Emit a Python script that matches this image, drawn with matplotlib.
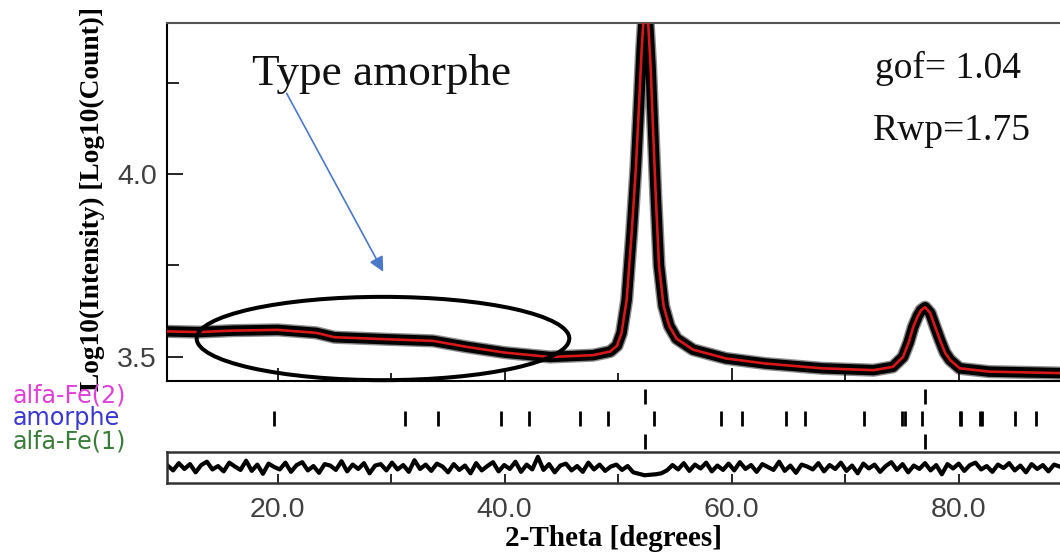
import numpy as np
import matplotlib
matplotlib.use("Agg")
import matplotlib.pyplot as plt
from matplotlib.patches import Ellipse

# ---------------- data ----------------
two_theta = [10.25, 13.0, 16.0, 20.0, 23.4, 25.0, 30.0, 33.7, 36.6, 40.0, 44.0,
             47.8, 49.3, 49.9, 50.3, 50.75, 51.19, 51.57, 51.86, 52.07, 52.21,
             52.42, 52.65, 52.86, 53.09, 53.33, 53.6, 54.0, 54.5, 55.15, 56.6,
             59.5, 63.0, 68.0, 72.5, 74.2, 75.1, 75.6, 76.0, 76.4, 76.7, 77.05,
             77.5, 77.9, 78.36, 78.8, 79.24, 80.1, 82.7, 89.0]
log_intensity = [3.570, 3.568, 3.572, 3.574, 3.566, 3.554, 3.548, 3.544, 3.528, 3.512, 3.500,
                 3.505, 3.515, 3.531, 3.566, 3.656, 3.838, 4.020, 4.202, 4.339, 4.410,
                 4.600, 4.410, 4.293, 4.111, 3.929, 3.750, 3.640, 3.585, 3.550, 3.520,
                 3.496, 3.482, 3.469, 3.464, 3.473, 3.500, 3.540, 3.582, 3.612, 3.628, 3.636,
                 3.620, 3.585, 3.546, 3.512, 3.492, 3.469, 3.460, 3.456]

alfa_fe_positions = [52.38, 77.04]
amorphe_positions = [19.67, 31.22, 34.09, 39.70, 42.16, 46.66, 49.13, 53.14, 59.06,
                     60.89, 64.79, 66.42, 71.69, 75.01, 75.28, 76.73, 80.09, 80.25,
                     81.89, 82.08, 84.93, 86.85]
phase_names = ["alfa-Fe(2)", "amorphe", "alfa-Fe(1)"]
phase_colors = ["#e040d8", "#3838d0", "#3a7d3a"]

residual = [0.4, -0.6, 0.9, -0.3, 0.7, -1.0, 0.5, 1.2, -0.4, 0.3, -0.8, 1.0, 0.2, -0.5, 1.4, -0.7, 0.6, -1.3, 0.8, 0.1,
            -0.4, 1.0, -0.9, 0.5, 1.1, -0.6, 0.3, -1.1, 0.7, 0.4, -0.5, 1.3, -0.8, 0.6, -0.3, 0.9, -1.2, 0.4, 0.7, -0.6,
            1.0, -0.4, 0.5, -0.9, 1.5, -0.3, 0.6, -0.7, 0.8, 0.2, -1.0, 0.7, -0.5, 0.4, -1.2, 0.9, -0.6, 0.3, 1.1, -0.8,
            0.5, -0.3, 1.2, -0.9, 0.6, -0.4, 2.2, -0.5, 0.7, -1.0, 0.4, 0.8, -0.6, 0.3, -0.9, 1.0, -0.4, 0.6, -0.7, 0.2,
            0.6, -0.5, 0.3, -1.0, -1.3, -1.6, -1.5, -1.4, -1.2, -0.6, 0.5, -0.4, 0.9, -0.7, 0.6, -0.2, 1.0, -0.8, 0.4, -0.5,
            0.8, -0.6, 1.1, -0.3, 0.5, -0.9, 0.7, 0.1, -0.5, 1.2, -0.7, 0.4, -1.1, 0.6, 0.2, -0.4, 0.9, -0.8, 0.5, -0.3,
            1.0, -0.7, 0.4, -1.2, 0.8, -0.2, 0.6, -0.9, 0.3, 1.1, -0.5, 0.7, -1.0, 0.4, -0.3, 0.9, -0.6, 0.5, -1.4, 0.7,
            -0.2, 0.8, -0.7, 0.5, 1.0, -0.4, 0.3, -0.9, 0.6, -0.1, 0.9, -0.6, 0.4, -1.0, 0.7, -0.3, 0.5, -0.8, 0.6, 0.2]

x_major = [20, 40, 60, 80]
x_minor = [30, 50, 70]
x_labels = ["20.0", "40.0", "60.0", "80.0"]
y_major = [3.5, 4.0]
y_minor = [3.75, 4.25]
y_labels = ["3.5", "4.0"]
gof = "1.04"
rwp = "1.75"

# ---------------- layout ----------------
W, H = 1060, 557
fig = plt.figure(figsize=(W / 100, H / 100), dpi=100)


def fx(px):
    return px / W


def fy(py):
    return 1 - py / H


XL, XR = 167, 1060
XMIN, XMAX = 10.25, 88.93
serif = "Liberation Serif"
sans = "Liberation Sans"
tick_col = "#404040"

# main pattern axes
ax = fig.add_axes([fx(XL), fy(381), fx(XR) - fx(XL), fy(22.7) - fy(381)])
ax.set_xlim(XMIN, XMAX)
ax.set_ylim(3.4344, 4.4134)
# observed points: grey fringe + dense black band
ax.plot(two_theta, log_intensity, color="#8c8c8c", lw=9.5,
        solid_joinstyle="round", solid_capstyle="round", zorder=1)
ax.plot(two_theta, log_intensity, color="black", lw=7.5,
        solid_joinstyle="round", solid_capstyle="round", zorder=2)
# calculated profile
ax.plot(two_theta, log_intensity, color="#d81818", lw=1.9, zorder=3)

ax.set_xticks(x_major)
ax.set_xticks(x_minor, minor=True)
ax.set_yticks(y_major)
ax.set_yticklabels(y_labels)
ax.set_yticks(y_minor, minor=True)
ax.tick_params(axis="x", which="both", direction="in", labelbottom=False, color="black", width=1.2)
ax.tick_params(axis="x", which="major", length=9.4)
ax.tick_params(axis="x", which="minor", length=5.8)
ax.tick_params(axis="y", which="both", direction="in", width=1.2, color="black")
ax.tick_params(axis="y", which="major", length=11.5, labelsize=20.5, labelcolor=tick_col, pad=7.2)
ax.tick_params(axis="y", which="minor", length=8.6)
for t in ax.get_yticklabels():
    t.set_fontfamily(sans)
ax.spines["right"].set_visible(False)
ax.spines["left"].set_linewidth(1.5)
ax.spines["bottom"].set_linewidth(1.5)
ax.spines["top"].set_linewidth(1.5)
ax.spines["top"].set_color("#555555")

ell = Ellipse((29.28, 3.5505), 32.83, 0.2276, fill=False, ec="black", lw=2.9,
              clip_on=False, zorder=5)
ax.add_patch(ell)
ax.annotate("", xy=(29.30, 3.733), xytext=(20.79, 4.2205),
            arrowprops=dict(arrowstyle="-|>", color="#4a78c8", lw=1.2,
                            mutation_scale=22, shrinkA=0, shrinkB=0), zorder=6)

# phase tick-mark panel
axp = fig.add_axes([fx(XL), fy(452), fx(XR) - fx(XL), fy(381) - fy(452)])
axp.set_xlim(XMIN, XMAX)
axp.set_ylim(0, 71)
axp.axis("off")
rows = [56, 34, 11]
phase_positions = [alfa_fe_positions, amorphe_positions, alfa_fe_positions]
for r, pos in zip(rows, phase_positions):
    axp.vlines(pos, r - 7.5, r + 7.5, color="black", lw=2)

# residual panel
axr = fig.add_axes([fx(XL), fy(483), fx(XR) - fx(XL), fy(452) - fy(483)])
axr.set_xlim(XMIN, XMAX)
axr.set_ylim(-3.2, 3.2)
res_x = np.linspace(10.3, 88.9, len(residual))
axr.plot(res_x, residual, color="black", lw=3.0)
axr.set_xticks(x_major)
axr.set_xticklabels(x_labels)
axr.set_xticks(x_minor, minor=True)
axr.set_yticks([])
axr.tick_params(axis="x", which="both", direction="in", length=6.5, width=1.2, color="black")
axr.tick_params(axis="x", which="major", labelsize=20.5, labelcolor=tick_col, pad=10)
for t in axr.get_xticklabels():
    t.set_fontfamily(sans)
axr.spines["right"].set_visible(False)
for s in ["top", "bottom", "left"]:
    axr.spines[s].set_linewidth(1.8)
    axr.spines[s].set_color("#333333")

# ---------------- texts ----------------
fig.text(fx(92.5), fy(199), "Log10(Intensity) [Log10(Count)]", rotation=90,
         ha="center", va="center", fontsize=19.7, fontweight="bold", family=serif)
fig.text(fx(613.5), fy(539), "2-Theta [degrees]", ha="center", va="center",
         fontsize=21, fontweight="bold", family=serif)
for name, col, py in zip(phase_names, phase_colors, [396, 418, 441]):
    fig.text(fx(13), fy(py), name, ha="left", va="center", fontsize=17.2,
             color=col, family="DejaVu Sans")
fig.text(fx(252), fy(85), "Type amorphe", ha="left", va="baseline",
         fontsize=32.5, family=serif, color="#111111")
fig.text(fx(875), fy(78.3), "gof= " + gof, ha="left", va="baseline",
         fontsize=27, family=serif, color="#111111")
fig.text(fx(873), fy(140), "Rwp=" + rwp, ha="left", va="baseline",
         fontsize=27, family=serif, color="#111111")

fig.savefig("out.png", dpi=100)
